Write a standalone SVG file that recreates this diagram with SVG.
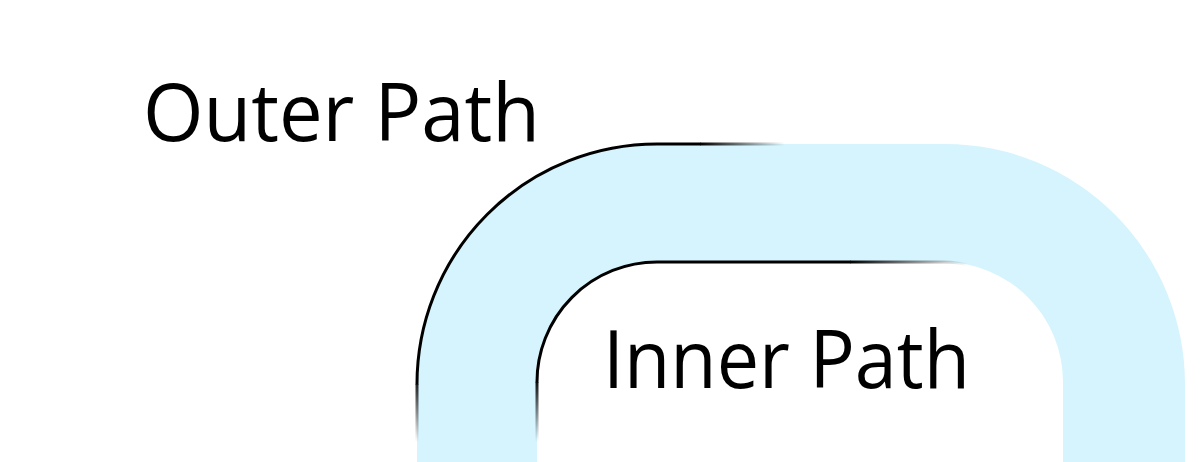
<svg xmlns="http://www.w3.org/2000/svg" width="1200" height="462" viewBox="0 0 1200 462">
  <style>
    .label { font-family: "Open Sans", "Liberation Sans", sans-serif; font-size: 80px; fill: #000; }
    .edge { fill: none; stroke-width: 3; stroke-linecap: butt; }
  </style>
  <defs>
    <linearGradient id="outerBottom" gradientUnits="userSpaceOnUse" x1="0" y1="375" x2="0" y2="442">
      <stop offset="0" stop-color="#000" stop-opacity="1"/>
      <stop offset="1" stop-color="#000" stop-opacity="0"/>
    </linearGradient>
    <linearGradient id="outerTop" gradientUnits="userSpaceOnUse" x1="700" y1="0" x2="785" y2="0">
      <stop offset="0" stop-color="#000" stop-opacity="1"/>
      <stop offset="1" stop-color="#000" stop-opacity="0"/>
    </linearGradient>
    <linearGradient id="innerBottom" gradientUnits="userSpaceOnUse" x1="0" y1="378" x2="0" y2="442">
      <stop offset="0" stop-color="#000" stop-opacity="1"/>
      <stop offset="1" stop-color="#000" stop-opacity="0"/>
    </linearGradient>
    <linearGradient id="innerTop" gradientUnits="userSpaceOnUse" x1="850" y1="0" x2="968" y2="0">
      <stop offset="0" stop-color="#000" stop-opacity="1"/>
      <stop offset="1" stop-color="#000" stop-opacity="0"/>
    </linearGradient>
  </defs>

  <g id="band">
    <path d="M417,462 V384 A240,240 0 0 1 657,144 H945 A240,240 0 0 1 1185,384 V462 H1063 V382 A120,120 0 0 0 943,262 H657 A120,120 0 0 0 537,382 V462 Z" fill="#d6f4fd"/>
  </g>

  <g id="outer-path">
    <path class="edge" stroke="url(#outerBottom)" d="M417,462 V384"/>
    <path class="edge" stroke="#000" d="M417,384.5 A240,240 0 0 1 657,144 H700.5"/>
    <path class="edge" stroke="url(#outerTop)" d="M700,144 H790"/>
  </g>

  <g id="inner-path">
    <path class="edge" stroke="url(#innerBottom)" d="M537,462 V382"/>
    <path class="edge" stroke="#000" d="M537,382.5 A120,120 0 0 1 657,262 H850.5"/>
    <path class="edge" stroke="url(#innerTop)" d="M850,262 H943 A120,120 0 0 1 975,266.4"/>
  </g>

  <g id="labels">
    <text class="label" x="143" y="141" textLength="397" lengthAdjust="spacingAndGlyphs">Outer Path</text>
    <text class="label" x="603" y="388" textLength="367" lengthAdjust="spacingAndGlyphs">Inner Path</text>
  </g>
</svg>
